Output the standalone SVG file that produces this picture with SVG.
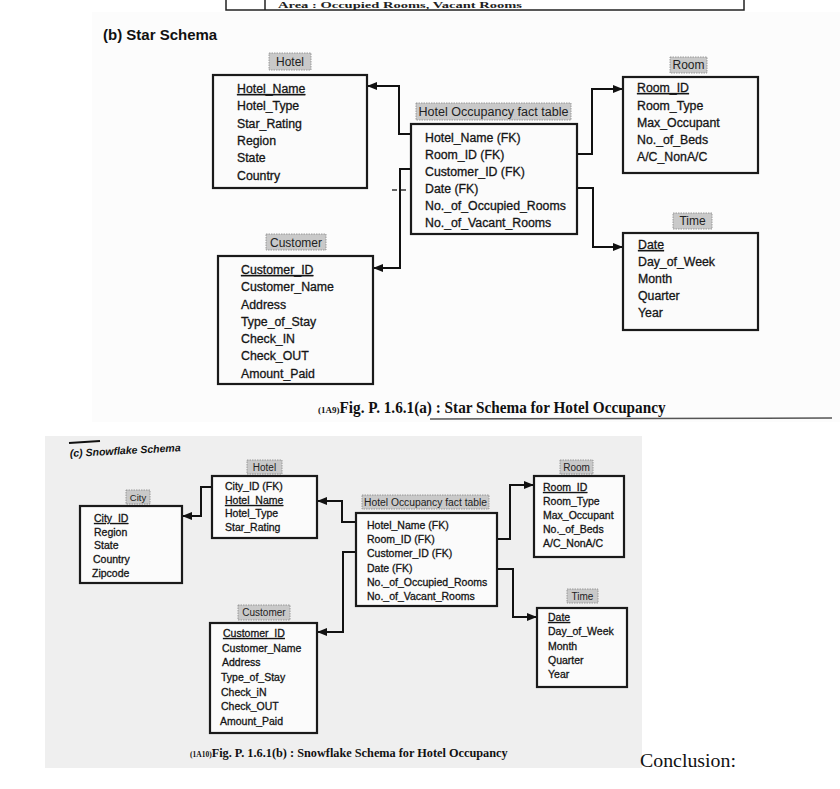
<svg xmlns="http://www.w3.org/2000/svg" width="840" height="789" viewBox="0 0 840 789">
<defs>
<marker id="arr" viewBox="0 0 10 10" refX="10" refY="5" markerWidth="5" markerHeight="5" orient="auto" markerUnits="strokeWidth">
<path d="M0,1 L10,5 L0,9 Z" fill="#111"/>
</marker>
<style>
.box{fill:#fbfbfb;stroke:#1a1a1a;stroke-width:2.2}
.lbl{fill:#c9c9c9;stroke:#888;stroke-width:0.8;stroke-dasharray:1.5 1}
.t{font-family:"Liberation Sans",Arial,sans-serif;fill:#151515;stroke:#151515;stroke-width:0.3}
.s{font-size:12.3px}
.f{font-size:10.5px}
.lt{font-family:"Liberation Sans",Arial,sans-serif;fill:#222;text-anchor:middle}
.pk{text-decoration:underline}
.con{fill:none;stroke:#111;stroke-width:2;marker-end:url(#arr)}
.cap{font-family:"Liberation Serif","Times New Roman",serif;font-weight:bold;fill:#111}
</style>
</defs>
<rect x="0" y="0" width="840" height="789" fill="#ffffff"/>
<rect x="92" y="12" width="748" height="410" fill="#fcfcfc"/>
<rect x="45" y="436" width="597" height="332" fill="#efefef"/>

<!-- cropped table at top -->
<g id="top-table">
<rect x="226" y="-10" width="518" height="20" fill="none" stroke="#222" stroke-width="1.5"/>
<line x1="265" y1="-10" x2="265" y2="10" stroke="#222" stroke-width="1.5"/>
<text x="278" y="7.5" font-family="'Liberation Serif',serif" font-size="8" font-weight="bold" fill="#222" textLength="244" lengthAdjust="spacingAndGlyphs">Area : Occupied Rooms, Vacant Rooms</text>
</g>

<text x="103" y="40" font-family="'Liberation Sans',Arial,sans-serif" font-weight="bold" font-size="15" fill="#111">(b) Star Schema</text>

<!-- STAR SCHEMA connectors -->
<g id="star-connectors">
<path class="con" d="M411,134 H399 V86 H367"/>
<path class="con" d="M411,169 H400 V268 H373"/>
<path class="con" d="M577,154 H592 V89 H623"/>
<path class="con" d="M577,188 H593 V247 H623"/>
<path d="M392,190 H409" stroke="#333" stroke-width="1.5" stroke-dasharray="5 4" fill="none"/>
</g>

<g id="star-hotel">
<rect class="lbl" x="269" y="53" width="42" height="17"/>
<text class="lt" x="290" y="66" font-size="12">Hotel</text>
<rect class="box" x="213" y="75" width="154" height="113"/>
<text class="t s pk" x="237" y="93">Hotel_Name</text>
<text class="t s" x="237" y="110">Hotel_Type</text>
<text class="t s" x="237" y="128">Star_Rating</text>
<text class="t s" x="237" y="145">Region</text>
<text class="t s" x="237" y="162">State</text>
<text class="t s" x="237" y="180">Country</text>
</g>

<g id="star-fact">
<rect class="lbl" x="416" y="103" width="155" height="17"/>
<text class="lt" x="493.5" y="116" font-size="12" textLength="150" lengthAdjust="spacingAndGlyphs">Hotel Occupancy fact table</text>
<rect class="box" x="411" y="124" width="166" height="110"/>
<text class="t s" x="425" y="142">Hotel_Name (FK)</text>
<text class="t s" x="425" y="159">Room_ID (FK)</text>
<text class="t s" x="425" y="176">Customer_ID (FK)</text>
<text class="t s" x="425" y="193">Date (FK)</text>
<text class="t s" x="425" y="210">No._of_Occupied_Rooms</text>
<text class="t s" x="425" y="227">No._of_Vacant_Rooms</text>
</g>

<g id="star-room">
<rect class="lbl" x="670" y="57" width="37" height="16"/>
<text class="lt" x="688.5" y="69" font-size="12">Room</text>
<rect class="box" x="623" y="77" width="135" height="96"/>
<text class="t s pk" x="637" y="92">Room_ID</text>
<text class="t s" x="637" y="110">Room_Type</text>
<text class="t s" x="637" y="127">Max_Occupant</text>
<text class="t s" x="637" y="144">No._of_Beds</text>
<text class="t s" x="637" y="161">A/C_NonA/C</text>
</g>

<g id="star-time">
<rect class="lbl" x="673" y="213" width="39" height="16"/>
<text class="lt" x="692.5" y="225" font-size="12">Time</text>
<rect class="box" x="623" y="233" width="135" height="97"/>
<text class="t s pk" x="638" y="249">Date</text>
<text class="t s" x="638" y="266">Day_of_Week</text>
<text class="t s" x="638" y="283">Month</text>
<text class="t s" x="638" y="300">Quarter</text>
<text class="t s" x="638" y="317">Year</text>
</g>

<g id="star-customer">
<rect class="lbl" x="266" y="234" width="60" height="16"/>
<text class="lt" x="296" y="247" font-size="12">Customer</text>
<rect class="box" x="218" y="256" width="155" height="128"/>
<text class="t s pk" x="241" y="274">Customer_ID</text>
<text class="t s" x="241" y="291">Customer_Name</text>
<text class="t s" x="241" y="309">Address</text>
<text class="t s" x="241" y="326">Type_of_Stay</text>
<text class="t s" x="241" y="343">Check_IN</text>
<text class="t s" x="241" y="360">Check_OUT</text>
<text class="t s" x="241" y="378">Amount_Paid</text>
</g>

<text class="cap" x="318" y="413"><tspan font-size="9">(1A9)</tspan><tspan font-size="16" textLength="326" lengthAdjust="spacingAndGlyphs">Fig. P. 1.6.1(a) : Star Schema for Hotel Occupancy</tspan></text>
<line x1="430" y1="419" x2="832" y2="418" stroke="#555" stroke-width="1.5"/>

<!-- SNOWFLAKE -->
<line x1="69" y1="443" x2="100" y2="441" stroke="#111" stroke-width="2"/>
<text x="70" y="457" transform="rotate(-3 70 457)" font-family="'Liberation Sans',Arial,sans-serif" font-style="italic" font-weight="bold" font-size="10.5" fill="#111">(c) Snowflake Schema</text>

<g id="snow-connectors">
<path class="con" d="M356,522 H342 V501 H317"/>
<path class="con" d="M356,552 H343 V632 H317"/>
<path class="con" d="M212,487 H201 V516 H182"/>
<path class="con" d="M497,539 H510 V485 H534"/>
<path class="con" d="M497,569 H513 V617 H537"/>
</g>

<g id="snow-city">
<rect class="lbl" x="126" y="490" width="24" height="14"/>
<text class="lt" x="138" y="501" font-size="9.5">City</text>
<rect class="box" x="80" y="506" width="102" height="77"/>
<text class="t f pk" x="94" y="522">City_ID</text>
<text class="t f" x="94" y="536">Region</text>
<text class="t f" x="94" y="549">State</text>
<text class="t f" x="93" y="563">Country</text>
<text class="t f" x="92" y="577">Zipcode</text>
</g>

<g id="snow-hotel">
<rect class="lbl" x="247" y="460" width="35" height="14"/>
<text class="lt" x="264.5" y="471" font-size="10">Hotel</text>
<rect class="box" x="212" y="476" width="105" height="62"/>
<text class="t f" x="225" y="490">City_ID (FK)</text>
<text class="t f pk" x="225" y="504">Hotel_Name</text>
<text class="t f" x="225" y="517">Hotel_Type</text>
<text class="t f" x="225" y="531">Star_Rating</text>
</g>

<g id="snow-fact">
<rect class="lbl" x="362" y="495" width="127" height="14"/>
<text class="lt" x="425.5" y="506" font-size="10" textLength="123" lengthAdjust="spacingAndGlyphs">Hotel Occupancy fact table</text>
<rect class="box" x="356" y="513" width="141" height="93"/>
<text class="t f" x="367" y="529">Hotel_Name (FK)</text>
<text class="t f" x="367" y="543">Room_ID (FK)</text>
<text class="t f" x="367" y="557">Customer_ID (FK)</text>
<text class="t f" x="367" y="572">Date (FK)</text>
<text class="t f" x="367" y="586">No._of_Occupied_Rooms</text>
<text class="t f" x="367" y="600">No._of_Vacant_Rooms</text>
</g>

<g id="snow-room">
<rect class="lbl" x="560" y="460" width="33" height="14"/>
<text class="lt" x="576.5" y="471" font-size="10">Room</text>
<rect class="box" x="534" y="476" width="90" height="81"/>
<text class="t f pk" x="543" y="491">Room_ID</text>
<text class="t f" x="543" y="505">Room_Type</text>
<text class="t f" x="543" y="519">Max_Occupant</text>
<text class="t f" x="543" y="533">No._of_Beds</text>
<text class="t f" x="543" y="547">A/C_NonA/C</text>
</g>

<g id="snow-time">
<rect class="lbl" x="567" y="589" width="31" height="14"/>
<text class="lt" x="582.5" y="600" font-size="10">Time</text>
<rect class="box" x="537" y="608" width="90" height="79"/>
<text class="t f pk" x="548" y="621">Date</text>
<text class="t f" x="548" y="635">Day_of_Week</text>
<text class="t f" x="548" y="650">Month</text>
<text class="t f" x="548" y="664">Quarter</text>
<text class="t f" x="548" y="678">Year</text>
</g>

<g id="snow-customer">
<rect class="lbl" x="238" y="605" width="52" height="15"/>
<text class="lt" x="264" y="616" font-size="10">Customer</text>
<rect class="box" x="210" y="623" width="107" height="110"/>
<text class="t f pk" x="223" y="637">Customer_ID</text>
<text class="t f" x="222" y="652">Customer_Name</text>
<text class="t f" x="222" y="666">Address</text>
<text class="t f" x="221" y="681">Type_of_Stay</text>
<text class="t f" x="221" y="696">Check_iN</text>
<text class="t f" x="221" y="710">Check_OUT</text>
<text class="t f" x="220" y="725">Amount_Paid</text>
</g>

<text class="cap" x="190" y="757"><tspan font-size="7.5">(1A10)</tspan><tspan font-size="13" textLength="296" lengthAdjust="spacingAndGlyphs">Fig. P. 1.6.1(b) : Snowflake Schema for Hotel Occupancy</tspan></text>

<text x="640" y="767" font-family="'Liberation Serif','Times New Roman',serif" font-size="18.5" fill="#111" textLength="96" lengthAdjust="spacingAndGlyphs">Conclusion:</text>
</svg>
